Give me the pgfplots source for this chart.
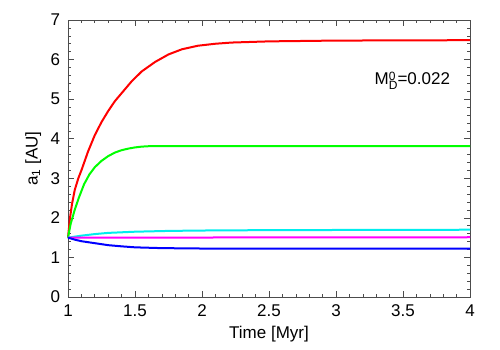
\documentclass[border=0pt]{standalone}
\usepackage{fontspec}
\setmainfont{Liberation Sans}
\usepackage{pgfplots}
\pgfplotsset{compat=1.18}
\definecolor{gpred}{RGB}{255,0,0}
\definecolor{gpgreen}{RGB}{0,255,0}
\definecolor{gpcyan}{RGB}{0,238,238}
\definecolor{gpmagenta}{RGB}{255,0,255}
\definecolor{gpblue}{RGB}{0,0,255}

\begin{document}
\begin{tikzpicture}
\fontsize{17}{20}\selectfont
\begin{axis}[
    scale only axis,
    width=402pt, height=277pt,
    xmin=1, xmax=4, ymin=0, ymax=7,
    xtick={1,1.5,...,4}, ytick={0,1,...,7},
    minor x tick num=4, minor y tick num=4,
    tick pos=both, tick align=inside,
    major tick length=6pt, minor tick length=3pt,
    axis line style={black!70, line width=0.8pt},
    every tick/.style={black!70, line width=0.6pt},
    tick label style={font=\fontsize{17}{20}\selectfont},
    label style={font=\fontsize{17}{20}\selectfont},
    /pgf/number format/assume math mode=true,
    xticklabel style={yshift=-2pt},
    yticklabel style={xshift=-2pt},
    xlabel={Time [Myr]},
    ylabel={a\textsubscript{1} [AU]},
    xlabel style={yshift=2pt},
    ylabel style={yshift=-2pt},
    clip=false,
]
\addplot[color=gpred, line width=2pt] coordinates {
  (1,1.5)(1.015,2.0)(1.03,2.35)(1.05,2.7)(1.077,3.0)(1.1,3.2)(1.15,3.68)
  (1.2,4.09)(1.25,4.42)(1.3,4.7)(1.35,4.95)(1.4,5.15)(1.475,5.45)(1.55,5.7)
  (1.65,5.94)(1.75,6.13)(1.85,6.26)(1.97,6.35)(2.1,6.4)(2.22,6.43)(2.5,6.46)
  (3,6.48)(4,6.49)};
\addplot[color=gpgreen, line width=2pt] coordinates {
  (1,1.5)(1.02,1.85)(1.05,2.2)(1.08,2.5)(1.12,2.85)(1.16,3.1)(1.2,3.28)
  (1.25,3.44)(1.3,3.56)(1.35,3.65)(1.4,3.71)(1.45,3.75)(1.5,3.78)(1.55,3.8)
  (1.6,3.81)(4,3.81)};
\addplot[color=gpcyan, line width=2pt] coordinates {
  (1,1.5)(1.1,1.55)(1.2,1.59)(1.3,1.62)(1.5,1.65)(1.75,1.67)(2,1.68)
  (2.5,1.69)(4,1.7)};
\addplot[color=gpmagenta, line width=2pt] coordinates {
  (1,1.5)(4,1.51)};
\addplot[color=gpblue, line width=2pt] coordinates {
  (1,1.5)(1.05,1.45)(1.1,1.41)(1.2,1.36)(1.3,1.31)(1.4,1.28)(1.5,1.255)
  (1.7,1.235)(2,1.225)(2.5,1.22)(4,1.22)};
\node[font=\fontsize{17}{20}\selectfont] at (axis cs:3.57,5.43)
  {M\raisebox{-0.45ex}{\fontsize{12}{12}\selectfont
   \begin{tabular}[b]{@{}l@{}}0\\[-3pt]D\end{tabular}}=0.022};
\coordinate (A) at (rel axis cs:0,0);
\coordinate (B) at (rel axis cs:1,1);
\end{axis}
\path ([xshift=-68pt,yshift=-53pt]A) rectangle ([xshift=30pt,yshift=20pt]B);
\end{tikzpicture}
\end{document}
